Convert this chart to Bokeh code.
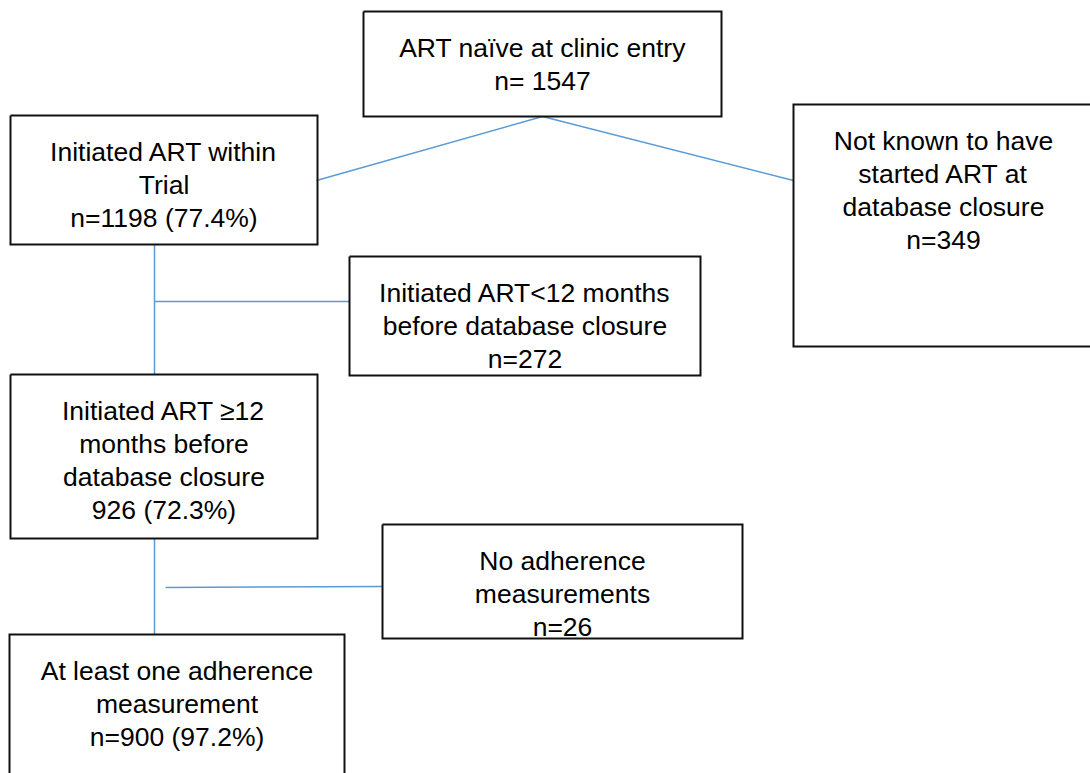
from bokeh.plotting import figure
from bokeh.models import Range1d, ColumnDataSource
from bokeh.core.properties import value
from bokeh.embed import file_html
from bokeh.resources import INLINE

# ---- data: box texts ----
box_entry = ["ART naïve at clinic entry", "n= 1547"]
box_initiated = ["Initiated ART within", "Trial", "n=1198 (77.4%)"]
box_not_started = ["Not known to have", "started ART at", "database closure", "n=349"]
box_lt12 = ["Initiated ART<12 months", "before database closure", "n=272"]
box_ge12 = ["Initiated ART ≥12", "months before", "database closure", "926 (72.3%)"]
box_no_adh = ["No adherence", "measurements", "n=26"]
box_adh = ["At least one adherence", "measurement", "n=900 (97.2%)"]

# ---- layout (screen pixel coordinates of the reference) ----
# (left, right, top, bottom, text-centre x, lines)
boxes = [
    (363, 721, 11, 116, 542, box_entry),
    (10, 317, 115, 244, 163.5, box_initiated),
    (793, 1100, 104, 346, 943, box_not_started),
    (349, 700, 256, 375, 524.5, box_lt12),
    (10, 317, 374, 538, 163.5, box_ge12),
    (382, 742, 524, 638, 562, box_no_adh),
    (9, 344, 634, 790, 176.5, box_adh),
]
connectors = [
    (542, 116, 316, 180),
    (542, 116, 793, 180),
    (154, 244, 154, 374),
    (154, 301, 349, 301),
    (154, 538, 154, 634),
    (165, 587, 382, 586),
]

W, H = 1090, 773
p = figure(width=W, height=H, x_range=Range1d(0, W), y_range=Range1d(H, 0),
           output_backend="svg", toolbar_location=None, min_border=0)
p.axis.visible = False
p.grid.visible = False
p.outline_line_color = None
p.background_fill_color = "white"
p.border_fill_color = "white"

seg = ColumnDataSource(dict(x0=[c[0] for c in connectors], y0=[c[1] for c in connectors],
                            x1=[c[2] for c in connectors], y1=[c[3] for c in connectors]))
p.segment("x0", "y0", "x1", "y1", source=seg, line_color="#5B9BD5", line_width=1.5)

# box outlines as polylines (boxes running off the page keep only their visible sides)
xs, ys = [], []
for l, r, t, b, cx, lines in boxes:
    if r > W:      # open on the right
        xs.append([r, l, l, r]); ys.append([t, t, b, b])
    elif b > H:    # open at the bottom
        xs.append([l, l, r, r]); ys.append([b, t, t, b])
    else:
        xs.append([l, r, r, l, l]); ys.append([t, t, b, b, t])
p.multi_line(xs=xs, ys=ys, line_color="#111111", line_width=2, line_join="miter")

tx, ty, tt = [], [], []
for l, r, t, b, cx, lines in boxes:
    for i, s in enumerate(lines):
        tx.append(cx)
        ty.append(t + 36 + 33 * i)
        tt.append(s)
p.text(x=tx, y=ty, text=tt, text_align="center", text_baseline="alphabetic",
       text_font=value("Liberation Sans"), text_font_size="26.5px", text_color="black")

open("out.html", "w").write(file_html(p, INLINE))
